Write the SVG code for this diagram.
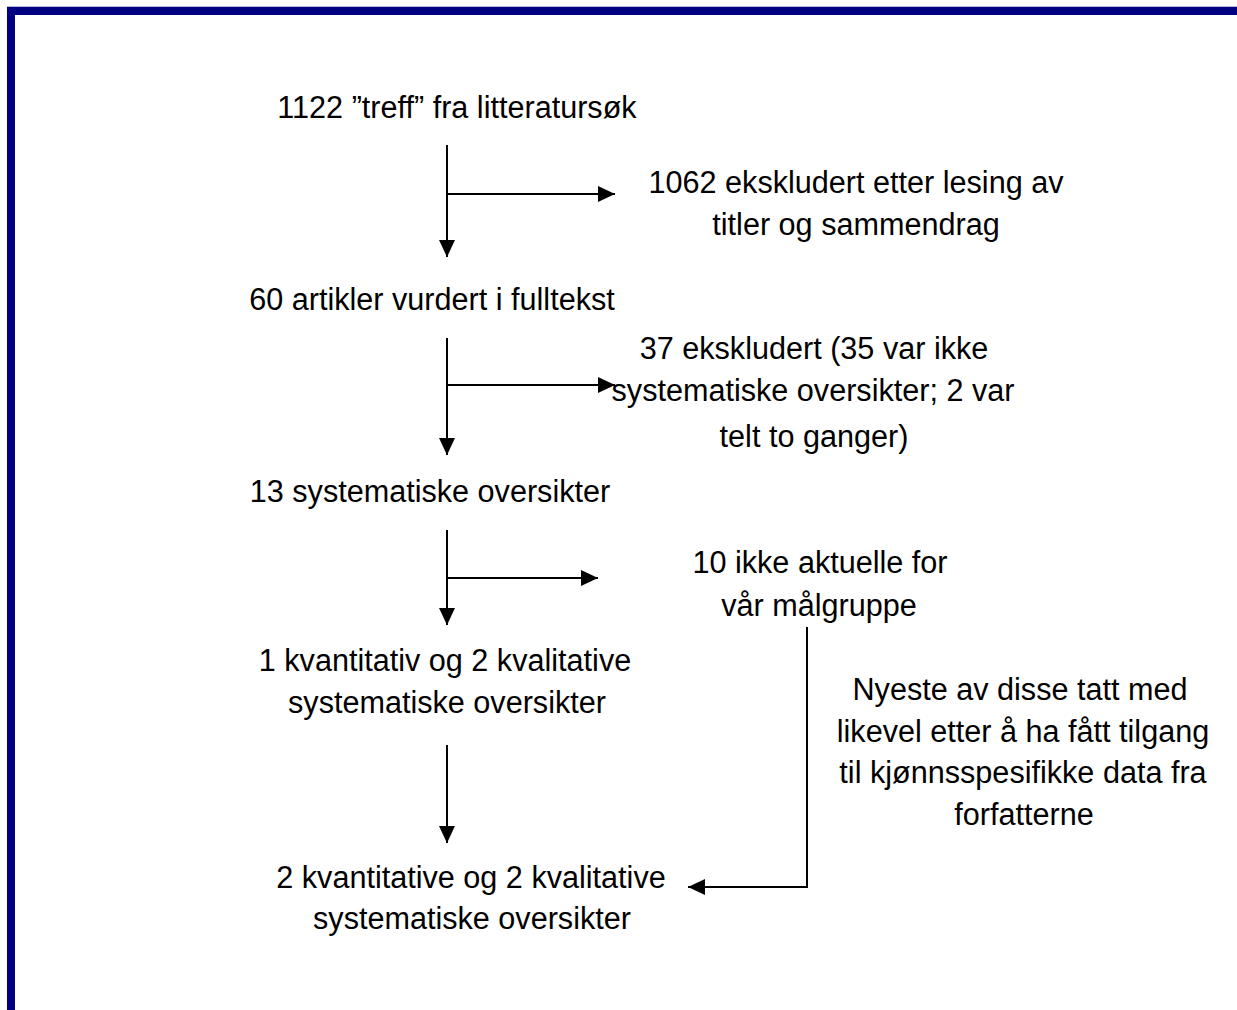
<svg xmlns="http://www.w3.org/2000/svg" width="1237" height="1010" viewBox="0 0 1237 1010">
<style>
text{font-family:"Liberation Sans",Arial,sans-serif;font-size:30.6px;fill:#000;text-anchor:middle}
.c{fill:none;stroke:#000;stroke-width:2}
</style>
<defs>
<marker id="ah" markerUnits="userSpaceOnUse" markerWidth="18" markerHeight="18" refX="17" refY="9" orient="auto">
<path d="M0,1 L17,9 L0,17 Z" fill="#000"/>
</marker>
</defs>
<rect width="1237" height="1010" fill="#fff"/>
<g id="border">
<rect x="7" y="6" width="1230" height="1" fill="#b8b8d8"/>
<rect x="7" y="7" width="1230" height="8" fill="#000080"/>
<rect x="7" y="7" width="8" height="1003" fill="#000080"/>
</g>
<g id="connectors">
<path class="c" d="M447,145 V257" marker-end="url(#ah)"/>
<path class="c" d="M447,194 H615" marker-end="url(#ah)"/>
<path class="c" d="M447,338 V455" marker-end="url(#ah)"/>
<path class="c" d="M447,385 H615" marker-end="url(#ah)"/>
<path class="c" d="M447,530 V625" marker-end="url(#ah)"/>
<path class="c" d="M447,578 H598" marker-end="url(#ah)"/>
<path class="c" d="M447,745 V843" marker-end="url(#ah)"/>
<path class="c" d="M807,627 V887 H688" marker-end="url(#ah)"/>
</g>
<g id="n1"><text x="457" y="118">1122 ”treff” fra litteratursøk</text></g>
<g id="n2"><text x="856" y="193">1062 ekskludert etter lesing av</text><text x="856" y="235">titler og sammendrag</text></g>
<g id="n3"><text x="432" y="310">60 artikler vurdert i fulltekst</text></g>
<g id="n4"><text x="814" y="359">37 ekskludert (35 var ikke</text><text x="813" y="401">systematiske oversikter; 2 var</text><text x="814" y="447">telt to ganger)</text></g>
<g id="n5"><text x="430" y="502">13 systematiske oversikter</text></g>
<g id="n6"><text x="820" y="573">10 ikke aktuelle for</text><text x="819" y="616">vår målgruppe</text></g>
<g id="n7"><text x="445" y="671">1 kvantitativ og 2 kvalitative</text><text x="447" y="713">systematiske oversikter</text></g>
<g id="n8"><text x="1020" y="700">Nyeste av disse tatt med</text><text x="1023" y="742">likevel etter å ha fått tilgang</text><text x="1023" y="783">til kjønnsspesifikke data fra</text><text x="1024" y="825">forfatterne</text></g>
<g id="n9"><text x="471" y="888">2 kvantitative og 2 kvalitative</text><text x="472" y="929">systematiske oversikter</text></g>
</svg>
